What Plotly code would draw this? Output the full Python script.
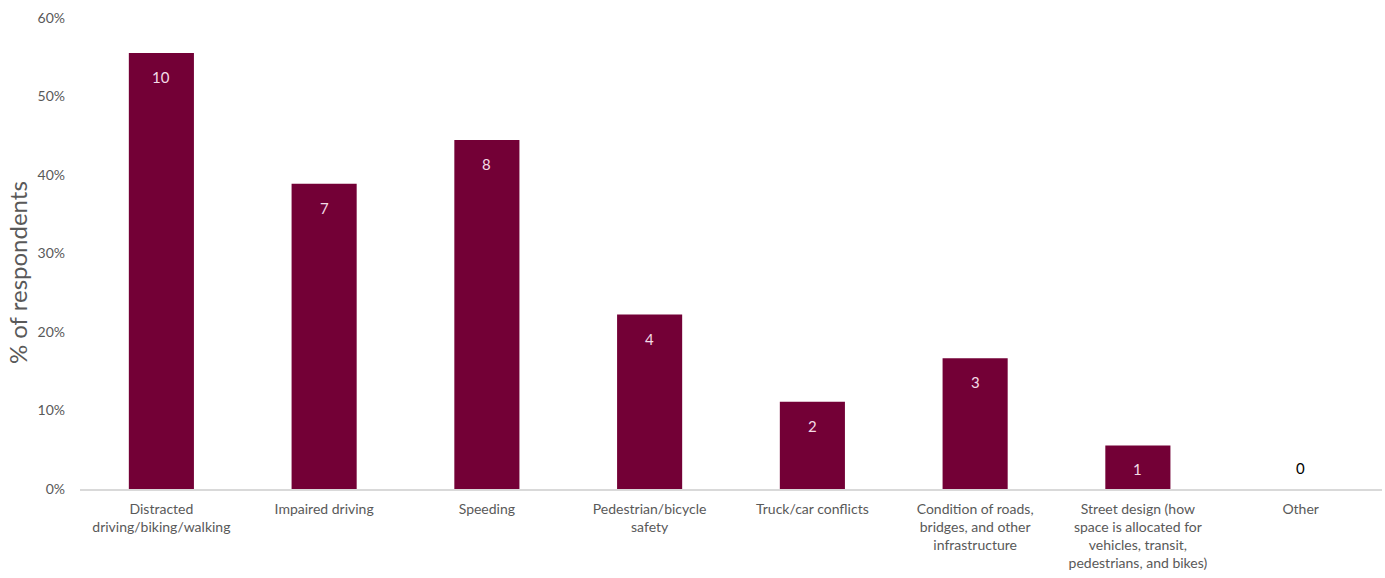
import plotly.graph_objects as go

categories = [
    "Distracted<br>driving/biking/walking",
    "Impaired driving",
    "Speeding",
    "Pedestrian/bicycle<br>safety",
    "Truck/car conflicts",
    "Condition of roads,<br>bridges, and other<br>infrastructure",
    "Street design (how<br>space is allocated for<br>vehicles, transit,<br>pedestrians, and bikes)",
    "Other",
]
counts = [10, 7, 8, 4, 2, 3, 1, 0]
total_respondents = 18
shares = [c / total_respondents for c in counts]

BAR = "#730036"
GRAY = "#595959"
FONT = "Lato, 'Open Sans', sans-serif"

fig = go.Figure(go.Bar(
    x=categories, y=shares, marker_color=BAR, marker_line_width=0,
    hoverinfo="skip",
))

for cat, val, cnt in zip(categories, shares, counts):
    fig.add_annotation(
        x=cat, y=val, text=str(cnt), showarrow=False,
        yanchor="middle", yshift=(-24 if cnt > 0 else 21),
        font=dict(family=FONT, size=15, color=("#f3dbe6" if cnt > 0 else "#000000")),
    )

fig.add_annotation(
    text="% of respondents", textangle=-90, showarrow=False,
    xref="paper", yref="paper", x=-0.0478, y=0.46, xanchor="center", yanchor="middle",
    font=dict(family=FONT, size=24, color=GRAY),
)

fig.update_layout(
    width=1385, height=578,
    margin=dict(l=80, r=3, t=18, b=89, autoexpand=False),
    plot_bgcolor="white", paper_bgcolor="white",
    bargap=0.6, showlegend=False,
    font=dict(family=FONT, size=14, color=GRAY),
)
fig.update_xaxes(
    showline=True, linecolor="#d9d9d9", linewidth=1.5, showgrid=False,
    ticks="", ticklabelstandoff=6, automargin=False,
    tickfont=dict(size=14, color=GRAY),
)
fig.update_yaxes(
    range=[0, 0.6], dtick=0.1, tickformat=".0%", showgrid=False, zeroline=False,
    showline=False, ticks="", ticklabelstandoff=14, automargin=False,
    tickfont=dict(size=14, color=GRAY),
)

fig.write_html("out.html", config={"displayModeBar": False},
               post_script="document.body.style.margin='0';")
